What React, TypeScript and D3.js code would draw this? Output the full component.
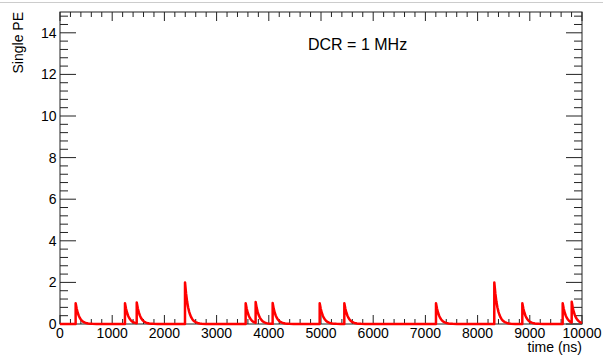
import * as d3 from "d3";

// pulse start times (ns) and heights (PE)
const pulseTimes = [300, 1245, 1470, 2395, 3557, 3748, 4074, 4975, 5447, 7203, 8320, 8857, 9630, 9803];
const pulseHeights = [1, 1, 1, 2, 1, 1, 1, 1, 1, 1, 2, 1, 1, 1];

// single-PE pulse shape: time after onset (ns) -> relative height
const shapeT = [0, 20, 40, 60, 80, 100, 120, 140, 160, 180, 200, 240, 280, 320, 400];
const shapeV = [1, 0.735, 0.54, 0.397, 0.292, 0.215, 0.158, 0.116, 0.085, 0.063, 0.046, 0.025, 0.013, 0.007, 0];

const xMajor = [0, 1000, 2000, 3000, 4000, 5000, 6000, 7000, 8000, 9000, 10000];
const yMajor = [0, 2, 4, 6, 8, 10, 12, 14];

const W = 603;
const H = 355;
const m = { left: 60, right: 582, top: 12, bottom: 324 };
const font = "'Liberation Sans', Arial, Helvetica, sans-serif";

export default function App() {
  const x = d3.scaleLinear().domain([0, 10000]).range([m.left, m.right]);
  const y = d3.scaleLinear().domain([0, 15]).range([m.bottom, m.top]);

  const shape = d3.scaleLinear().domain(shapeT).range(shapeV).clamp(true);
  const valueAt = (t: number) =>
    pulseTimes.reduce((s, t0, i) => (t >= t0 ? s + pulseHeights[i] * shape(t - t0) : s), 0);

  const ts: number[] = [0, 10000];
  pulseTimes.forEach((t0) => {
    ts.push(t0 - 0.5);
    shapeT.forEach((dt) => ts.push(t0 + dt));
  });
  ts.sort((a, b) => a - b);
  const pts: [number, number][] = ts.filter((t) => t >= 0 && t <= 10000).map((t) => [t, valueAt(t)]);

  const line = d3
    .line<[number, number]>()
    .x((d) => x(d[0]))
    .y((d) => y(d[1]));

  const xMinor = d3.range(0, 10001, 200).filter((v) => v % 1000 !== 0);
  const yMinor = d3.range(0, 15.01, 0.4).map((v) => +v.toFixed(1)).filter((v) => v % 2 !== 0);

  const txMaj = 9, txMin = 5, tyMaj = 16, tyMin = 8;

  return (
    <svg
      width={W}
      height={H}
      style={{ position: "absolute", left: 0, top: 0, background: "#fff" }}
      fontFamily={font}
    >
      <line x1={0} x2={W} y1={2.5} y2={2.5} stroke="#ccc" strokeWidth={1} />
      <g stroke="#222" strokeWidth={1}>
        {/* x ticks bottom & top */}
        {xMajor.map((v) => (
          <g key={"xM" + v}>
            <line x1={x(v)} x2={x(v)} y1={m.bottom} y2={m.bottom - txMaj} />
            <line x1={x(v)} x2={x(v)} y1={m.top} y2={m.top + txMaj} />
          </g>
        ))}
        {xMinor.map((v) => (
          <g key={"xm" + v}>
            <line x1={x(v)} x2={x(v)} y1={m.bottom} y2={m.bottom - txMin} />
            <line x1={x(v)} x2={x(v)} y1={m.top} y2={m.top + txMin} />
          </g>
        ))}
        {/* y ticks left & right */}
        {yMajor.map((v) => (
          <g key={"yM" + v}>
            <line x1={m.left} x2={m.left + tyMaj} y1={y(v)} y2={y(v)} />
            <line x1={m.right} x2={m.right - tyMaj} y1={y(v)} y2={y(v)} />
          </g>
        ))}
        {yMinor.map((v) => (
          <g key={"ym" + v}>
            <line x1={m.left} x2={m.left + tyMin} y1={y(v)} y2={y(v)} />
            <line x1={m.right} x2={m.right - tyMin} y1={y(v)} y2={y(v)} />
          </g>
        ))}
        <rect x={m.left} y={m.top} width={m.right - m.left} height={m.bottom - m.top} fill="none" />
      </g>

      <path d={line(pts) ?? ""} fill="none" stroke="#ff0000" strokeWidth={2.5} strokeLinejoin="round" />

      <g fontSize={14} fill="#000">
        {xMajor.map((v) => (
          <text key={"xl" + v} x={x(v)} y={338} textAnchor="middle">
            {v}
          </text>
        ))}
        {yMajor.map((v) => (
          <text key={"yl" + v} x={56.5} y={y(v) + 5} textAnchor="end">
            {v}
          </text>
        ))}
        <text x={582} y={352} textAnchor="end">
          time (ns)
        </text>
        <text transform="translate(22.5,12) rotate(-90)" textAnchor="end">
          Single PE
        </text>
      </g>
      <text x={308} y={50} fontSize={16} fill="#000">
        DCR = 1 MHz
      </text>
    </svg>
  );
}
